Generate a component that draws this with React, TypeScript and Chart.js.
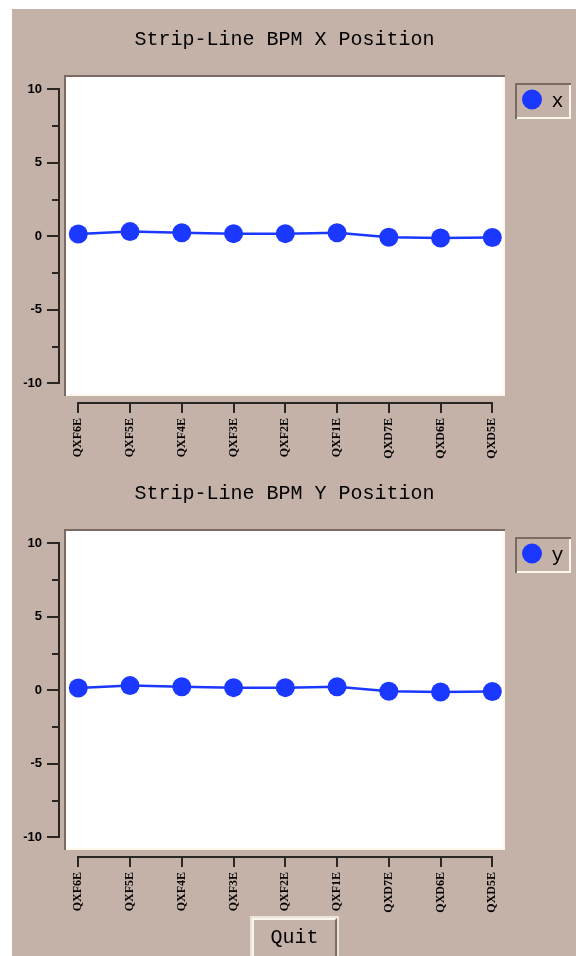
import React, { useEffect, useRef } from "react";
import { Chart, registerables } from "chart.js";

Chart.register(...registerables);

// ---- data ----
const categories = ["QXF6E", "QXF5E", "QXF4E", "QXF3E", "QXF2E", "QXF1E", "QXD7E", "QXD6E", "QXD5E"];
const xPositions = [0.16, 0.32, 0.24, 0.18, 0.18, 0.24, -0.06, -0.12, -0.08];
const yPositions = [0.16, 0.32, 0.24, 0.18, 0.18, 0.24, -0.06, -0.12, -0.08];
const majorTicks = [-10, -5, 0, 5, 10];
const minorTicks = [-7.5, -2.5, 2.5, 7.5];
const chartTitles = ["Strip-Line BPM X Position", "Strip-Line BPM Y Position"];
const seriesLabels = ["x", "y"];

// ---- style ----
const TAN = "#c4b1a8";
const DARK_EDGE = "#7b6b63";
const LIGHT_EDGE = "#fdf7ec";
const AXIS = "#2a2624";
const BLUE = "#1a38ff";
const CANVAS_W = 564;
const CANVAS_H = 454;

const bltPlugin = {
  id: "bltLook",
  beforeDraw(chart: any) {
    const { ctx, chartArea: a } = chart;
    const w = a.right - a.left;
    const h = a.bottom - a.top;
    ctx.save();
    ctx.fillStyle = "#ffffff";
    ctx.fillRect(a.left, a.top, w, h);
    ctx.fillStyle = DARK_EDGE;
    ctx.fillRect(a.left, a.top, w, 2);
    ctx.fillRect(a.left, a.top, 2, h);
    ctx.fillStyle = LIGHT_EDGE;
    ctx.fillRect(a.left + 2, a.bottom - 2, w - 2, 2);
    ctx.fillRect(a.right - 2, a.top + 2, 2, h - 2);
    ctx.restore();
  },
  afterDraw(chart: any) {
    const { ctx, chartArea: a } = chart;
    const ys = chart.scales.y;
    const xs = chart.scales.x;
    ctx.save();
    ctx.fillStyle = AXIS;
    // y axis line
    const axX = a.left - 6;
    const yTop = Math.round(ys.getPixelForValue(Math.max(...majorTicks)));
    const yBot = Math.round(ys.getPixelForValue(Math.min(...majorTicks)));
    ctx.fillRect(axX, yTop - 1, 2, yBot - yTop + 2);
    majorTicks.forEach((v) => {
      const p = Math.round(ys.getPixelForValue(v));
      ctx.fillRect(axX - 11, p - 1, 11, 2);
    });
    minorTicks.forEach((v) => {
      const p = Math.round(ys.getPixelForValue(v));
      ctx.fillRect(axX - 6, p - 1, 6, 2);
    });
    // x axis line
    const axY = a.bottom + 6;
    const xL = Math.round(xs.getPixelForValue(0));
    const xR = Math.round(xs.getPixelForValue(categories.length - 1));
    ctx.fillRect(xL - 1, axY, xR - xL + 2, 2);
    categories.forEach((_, i) => {
      const p = Math.round(xs.getPixelForValue(i));
      ctx.fillRect(p - 1, axY, 2, 11);
    });

    // legend
    const ds = chart.data.datasets[0];
    const lx = a.right + 10;
    const ly = a.top + 8;
    const lw = 56;
    const lh = 36;
    ctx.fillStyle = DARK_EDGE;
    ctx.fillRect(lx, ly, lw, 2);
    ctx.fillRect(lx, ly, 2, lh);
    ctx.fillStyle = LIGHT_EDGE;
    ctx.fillRect(lx + 2, ly + lh - 2, lw - 2, 2);
    ctx.fillRect(lx + lw - 2, ly + 2, 2, lh - 2);
    ctx.fillStyle = ds.backgroundColor;
    ctx.beginPath();
    ctx.arc(lx + 17, ly + 16.5, 10, 0, Math.PI * 2);
    ctx.fill();
    ctx.fillStyle = "#000";
    ctx.font = "20px 'Liberation Mono'";
    ctx.textAlign = "center";
    ctx.textBaseline = "alphabetic";
    ctx.fillText(ds.label, lx + 42.5, ly + 24);
    ctx.restore();
  },
};

function BpmChart(props: { title: string; label: string; values: number[]; top: number }) {
  const ref = useRef<HTMLCanvasElement>(null);
  useEffect(() => {
    const canvas = ref.current!;
    const chart = new Chart(canvas, {
      type: "line",
      data: {
        datasets: [
          {
            label: props.label,
            data: props.values.map((v, i) => ({ x: i, y: v })),
            borderColor: BLUE,
            backgroundColor: BLUE,
            borderWidth: 2.5,
            pointRadius: 9.5,
            pointHoverRadius: 9.5,
            pointBorderWidth: 0,
            pointStyle: "circle",
            tension: 0,
          },
        ],
      },
      options: {
        animation: false,
        responsive: false,
        devicePixelRatio: 1,
        events: [],
        layout: { padding: { left: 0, right: 71, top: 0, bottom: 0 } },
        plugins: {
          legend: { display: false },
          tooltip: { enabled: false },
          title: {
            display: true,
            text: props.title,
            fullSize: false,
            color: "#000",
            font: { family: "'Liberation Mono'", size: 20, weight: "normal" },
            padding: { top: 19, bottom: 23 },
          },
        },
        scales: {
          x: {
            type: "linear",
            min: -0.276,
            max: 8.245,
            bounds: "data",
            grid: { display: false, drawTicks: false },
            border: { display: false },
            afterBuildTicks: (s: any) => {
              s.ticks = categories.map((_, i) => ({ value: i }));
            },
            afterFit: (s: any) => {
              s.height = 67;
            },
            ticks: {
              autoSkip: false,
              minRotation: 90,
              maxRotation: 90,
              padding: 22,
              color: "#000",
              font: { family: "'Liberation Serif'", size: 12, weight: "bold" },
              callback: (v: any) => categories[v] ?? "",
            },
          },
          y: {
            type: "linear",
            min: -10.864,
            max: 10.973,
            grid: { display: false, drawTicks: false },
            border: { display: false },
            afterBuildTicks: (s: any) => {
              s.ticks = majorTicks.map((v) => ({ value: v }));
            },
            afterFit: (s: any) => {
              s.width = 52;
            },
            ticks: {
              padding: 22,
              color: "#000",
              font: { family: "'Liberation Sans'", size: 13, weight: "bold" },
              callback: (v: any) => String(v),
            },
          },
        },
      },
      plugins: [bltPlugin],
    } as any);
    return () => chart.destroy();
  }, []);
  return (
    <canvas
      ref={ref}
      width={CANVAS_W}
      height={CANVAS_H}
      style={{ position: "absolute", left: 0, top: props.top, width: CANVAS_W, height: CANVAS_H }}
    />
  );
}

export default function App() {
  useEffect(() => {
    document.documentElement.style.overflow = "hidden";
    document.body.style.overflow = "hidden";
  }, []);
  return (
    <div
      style={{
        position: "absolute",
        left: 12,
        top: 9,
        width: 564,
        height: 947,
        background: TAN,
        overflow: "hidden",
      }}
    >
      <BpmChart title={chartTitles[0]} label={seriesLabels[0]} values={xPositions} top={0} />
      <BpmChart title={chartTitles[1]} label={seriesLabels[1]} values={yPositions} top={454} />
      <div
        style={{
          position: "absolute",
          left: 240,
          top: 909,
          width: 85,
          height: 44,
          boxSizing: "border-box",
          borderStyle: "solid",
          borderWidth: 2,
          borderColor: "#fbf5ee #7b6d66 #7b6d66 #fbf5ee",
          boxShadow: "0 0 0 2px #ece3da",
          background: TAN,
          paddingTop: 8,
          lineHeight: "20px",
          textAlign: "center",
          fontFamily: "'Liberation Mono'",
          fontSize: 20,
          color: "#000",
        }}
      >
        Quit
      </div>
    </div>
  );
}
